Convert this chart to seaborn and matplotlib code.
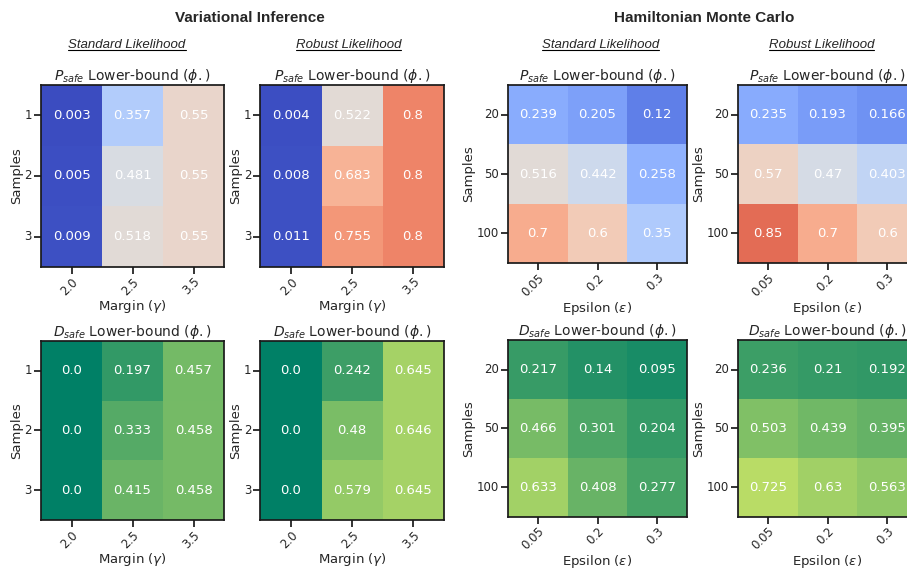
import matplotlib.pyplot as plt
from matplotlib.lines import Line2D
import pandas as pd
import seaborn as sns

# axis categories
vi_samples = ["1", "2", "3"]
vi_margins = ["2.0", "2.5", "3.5"]
hmc_samples = ["20", "50", "100"]
hmc_eps = ["0.05", "0.2", "0.3"]

# P_safe lower bounds
vi_std_p = [[0.003, 0.357, 0.55],
            [0.005, 0.481, 0.55],
            [0.009, 0.518, 0.55]]
vi_rob_p = [[0.004, 0.522, 0.8],
            [0.008, 0.683, 0.8],
            [0.011, 0.755, 0.8]]
hmc_std_p = [[0.239, 0.205, 0.12],
             [0.516, 0.442, 0.258],
             [0.7, 0.6, 0.35]]
hmc_rob_p = [[0.235, 0.193, 0.166],
             [0.57, 0.47, 0.403],
             [0.85, 0.7, 0.6]]

# D_safe lower bounds
vi_std_d = [[0.0, 0.197, 0.457],
            [0.0, 0.333, 0.458],
            [0.0, 0.415, 0.458]]
vi_rob_d = [[0.0, 0.242, 0.645],
            [0.0, 0.48, 0.646],
            [0.0, 0.579, 0.645]]
hmc_std_d = [[0.217, 0.14, 0.095],
             [0.466, 0.301, 0.204],
             [0.633, 0.408, 0.277]]
hmc_rob_d = [[0.236, 0.21, 0.192],
             [0.503, 0.439, 0.395],
             [0.725, 0.63, 0.563]]

sns.set_style("ticks")
plt.rcParams["font.family"] = ["DejaVu Sans"]
plt.rcParams["mathtext.fontset"] = "dejavusans"

fig = plt.figure(figsize=(9.07, 5.69), dpi=100)

# axes boxes [left, bottom, width, height] per (row, col)
vi_w, hmc_w = 0.2018, 0.1974
boxes = {
    (0, 0): [0.0452, 0.5308, vi_w, 0.3199],
    (0, 1): [0.2872, 0.5308, vi_w, 0.3199],
    (1, 0): [0.0452, 0.0860, vi_w, 0.3150],
    (1, 1): [0.2872, 0.0860, vi_w, 0.3150],
    (0, 2): [0.5601, 0.5378, hmc_w, 0.3128],
    (0, 3): [0.8137, 0.5378, hmc_w, 0.3128],
    (1, 2): [0.5601, 0.0920, hmc_w, 0.3100],
    (1, 3): [0.8137, 0.0920, hmc_w, 0.3100],
}

panels = [
    # (row, col, data, samples, xcats, xlabel, cmap, letter)
    (0, 0, vi_std_p, vi_samples, vi_margins, r"Margin ($\gamma$)", "coolwarm", "P"),
    (0, 1, vi_rob_p, vi_samples, vi_margins, r"Margin ($\gamma$)", "coolwarm", "P"),
    (0, 2, hmc_std_p, hmc_samples, hmc_eps, r"Epsilon ($\varepsilon$)", "coolwarm", "P"),
    (0, 3, hmc_rob_p, hmc_samples, hmc_eps, r"Epsilon ($\varepsilon$)", "coolwarm", "P"),
    (1, 0, vi_std_d, vi_samples, vi_margins, r"Margin ($\gamma$)", "summer", "D"),
    (1, 1, vi_rob_d, vi_samples, vi_margins, r"Margin ($\gamma$)", "summer", "D"),
    (1, 2, hmc_std_d, hmc_samples, hmc_eps, r"Epsilon ($\varepsilon$)", "summer", "D"),
    (1, 3, hmc_rob_d, hmc_samples, hmc_eps, r"Epsilon ($\varepsilon$)", "summer", "D"),
]

for r, c, vals, ycats, xcats, xlabel, cmap, letter in panels:
    ax = fig.add_axes(boxes[(r, c)])
    df = pd.DataFrame(vals, index=ycats, columns=xcats)
    labels = df.map(lambda v: str(round(v, 3)))
    sns.heatmap(df, ax=ax, cmap=cmap, vmin=0, vmax=1, cbar=False,
                annot=labels, fmt="", annot_kws={"color": "white", "fontsize": 9.5})
    for s in ax.spines.values():
        s.set_visible(True)
        s.set_linewidth(1.25)
        s.set_color("0.1")
    ax.tick_params(length=5, width=1.25, labelsize=8.5, pad=1.5, color="0.1")
    ax.tick_params(axis="x", pad=1)
    plt.setp(ax.get_xticklabels(), rotation=45, ha="right", rotation_mode="anchor")
    plt.setp(ax.get_yticklabels(), rotation=0)
    ax.set_xlabel(xlabel, fontsize=9.5, labelpad=0.5)
    ax.set_ylabel("Samples", fontsize=9.5, labelpad=1)
    ax.set_title(r"$%s_{safe}$ Lower-bound ($\phi.$)" % letter, fontsize=10, pad=3)

# group headers
head_font = ["Liberation Sans", "DejaVu Sans"]
fig.text(0.276, 0.968, "Variational Inference", ha="center", va="center",
         fontsize=11, fontweight="bold", family=head_font)
fig.text(0.776, 0.968, "Hamiltonian Monte Carlo", ha="center", va="center",
         fontsize=11, fontweight="bold", family=head_font)

subs = []
for x, name in [(0.140, "Standard Likelihood"), (0.384, "Robust Likelihood"),
                (0.662, "Standard Likelihood"), (0.906, "Robust Likelihood")]:
    subs.append(fig.text(x, 0.921, name, ha="center", va="center", fontsize=9.5,
                         style="italic", family=head_font))

# underline the sub headers
fig.canvas.draw()
renderer = fig.canvas.get_renderer()
for t in subs:
    bb = t.get_window_extent(renderer).transformed(fig.transFigure.inverted())
    fig.add_artist(Line2D([bb.x0, bb.x1], [bb.y0 + 0.002, bb.y0 + 0.002],
                          transform=fig.transFigure, color="black", lw=0.8))

fig.savefig("out.png", dpi=100)
